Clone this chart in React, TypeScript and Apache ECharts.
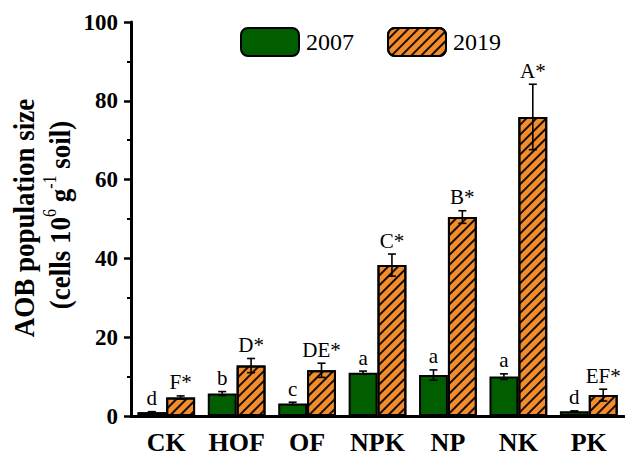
import React, { useEffect, useRef } from "react";
import * as echarts from "echarts";

const categories = ["CK", "HOF", "OF", "NPK", "NP", "NK", "PK"];
const yearNames = ["2007", "2019"];

const aob2007 = [1.0, 5.7, 3.2, 11.0, 10.4, 10.0, 1.2];
const err2007 = [0.1, 0.5, 0.3, 0.4, 1.3, 0.7, 0.1];
const sig2007 = ["d", "b", "c", "a", "a", "a", "d"];

const aob2019 = [4.7, 12.8, 11.6, 38.3, 50.5, 75.9, 5.3];
const err2019 = [0.4, 1.8, 1.8, 2.8, 1.6, 8.3, 1.5];
const sig2019 = ["F*", "D*", "DE*", "C*", "B*", "A*", "EF*"];

const yTicks = { min: 0, max: 100, interval: 20 };

const FONT = "'Liberation Serif', 'Times New Roman', serif";
const GREEN = "#005e00";
const ORANGE = "#f28c2c";
const BAR_RATIO = 0.41;

// error bars plus significance letters, drawn on top of each bar
function errorSeries(values: number[], errs: number[], sigs: string[], side: number) {
  return {
    type: "custom",
    xAxisIndex: 0,
    z: 10,
    silent: true,
    data: values.map((v, i) => [i, v, errs[i], sigs[i]]),
    renderItem: (params: any, api: any) => {
      const idx = api.value(0);
      const v = api.value(1);
      const e = api.value(2);
      const label = sigs[params.dataIndex];
      const band = api.size([1, 0])[0];
      const cx = api.coord([idx, 0])[0] + (side * band * BAR_RATIO) / 2;
      const yTop = api.coord([idx, v + e])[1];
      const yBot = api.coord([idx, v - e])[1];
      const cap = 4;
      const ls = { stroke: "#000", lineWidth: 1.6 };
      return {
        type: "group",
        children: [
          { type: "line", shape: { x1: cx, y1: yTop, x2: cx, y2: yBot }, style: ls },
          { type: "line", shape: { x1: cx - cap, y1: yTop, x2: cx + cap, y2: yTop }, style: ls },
          { type: "line", shape: { x1: cx - cap, y1: yBot, x2: cx + cap, y2: yBot }, style: ls },
          {
            type: "text",
            x: cx,
            y: yTop - 3,
            style: {
              text: label,
              align: "center",
              verticalAlign: "bottom",
              font: `21px ${FONT}`,
              fill: "#000",
            },
          },
        ],
      };
    },
  };
}

export default function App() {
  const ref = useRef<HTMLDivElement>(null);

  useEffect(() => {
    if (!ref.current) return;
    const chart = echarts.init(ref.current, null, { renderer: "svg" });

    const hatch = {
      symbol: "rect",
      symbolSize: 1,
      dashArrayX: [1, 0],
      dashArrayY: [1.1, 4.2],
      rotation: -Math.PI / 4,
      color: "rgba(0,0,0,0.9)",
    };

    chart.setOption({
      animation: false,
      backgroundColor: "#fff",
      textStyle: { fontFamily: FONT },
      grid: { left: 131, right: 1, top: 22, bottom: 37, containLabel: false },
      legend: {
        left: 240,
        top: 27,
        padding: 0,
        itemWidth: 58,
        itemHeight: 28,
        itemGap: 33,
        data: yearNames,
        textStyle: { fontFamily: FONT, fontSize: 24, color: "#000", padding: [0, 0, 0, 2] },
      },
      xAxis: [
        {
          type: "category",
          data: categories,
          axisLine: { lineStyle: { color: "#000", width: 3 } },
          axisTick: { alignWithLabel: true, length: 6, lineStyle: { color: "#000", width: 2.5 } },
          axisLabel: {
            interval: 0,
            fontFamily: FONT,
            fontSize: 26,
            fontWeight: "bold",
            color: "#000",
            margin: 13,
          },
        },
        {
          // short ticks on category boundaries
          type: "category",
          data: categories,
          position: "bottom",
          axisLine: { show: false },
          axisTick: { interval: 0, length: 3, lineStyle: { color: "#000", width: 2 } },
          axisLabel: { show: false },
        },
      ],
      yAxis: {
        type: "value",
        min: yTicks.min,
        max: yTicks.max,
        interval: yTicks.interval,
        splitLine: { show: false },
        axisLine: { show: true, lineStyle: { color: "#000", width: 3 } },
        axisTick: { show: true, length: 7, lineStyle: { color: "#000", width: 2.5 } },
        minorTick: { show: true, splitNumber: 2, length: 4, lineStyle: { color: "#000", width: 2 } },
        axisLabel: {
          fontFamily: FONT,
          fontSize: 23,
          fontWeight: "bold",
          color: "#000",
          margin: 13,
        },
      },
      graphic: [
        {
          type: "text",
          x: 23,
          y: 218,
          rotation: Math.PI / 2,
          scaleY: 1.12,
          style: {
            text: "AOB population size",
            align: "center",
            verticalAlign: "middle",
            font: `bold 27px ${FONT}`,
            fill: "#000",
          },
        },
        {
          type: "text",
          x: 58,
          y: 215,
          rotation: Math.PI / 2,
          scaleY: 1.12,
          style: {
            text: "{b|(cells 10}{s|6}{b| g}{s|-1}{b| soil)}",
            align: "center",
            verticalAlign: "middle",
            fill: "#000",
            rich: {
              b: { font: `bold 27px ${FONT}`, fill: "#000", lineHeight: 30, verticalAlign: "bottom" },
              s: { font: `16px ${FONT}`, fill: "#000", lineHeight: 30, verticalAlign: "top" },
            },
          },
        },
      ],
      series: [
        {
          name: yearNames[0],
          type: "bar",
          data: aob2007,
          barWidth: `${BAR_RATIO * 100}%`,
          barGap: "0%",
          itemStyle: { color: GREEN, borderColor: "#000", borderWidth: 2 },
        },
        {
          name: yearNames[1],
          type: "bar",
          data: aob2019,
          barWidth: `${BAR_RATIO * 100}%`,
          barGap: "0%",
          itemStyle: { color: ORANGE, borderColor: "#000", borderWidth: 2, decal: hatch },
        },
        errorSeries(aob2007, err2007, sig2007, -1),
        errorSeries(aob2019, err2019, sig2019, 1),
      ],
    });

    return () => chart.dispose();
  }, []);

  return (
    <div
      ref={ref}
      style={{ position: "fixed", left: 0, top: 0, width: 625, height: 455, background: "#fff" }}
    />
  );
}
